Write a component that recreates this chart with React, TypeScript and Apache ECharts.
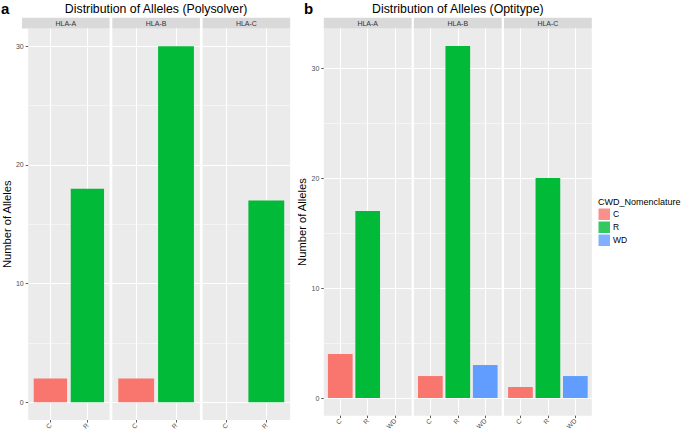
import React, { useEffect, useRef } from 'react';
import * as echarts from 'echarts';

// ---- data ----
const genes = ['HLA-A', 'HLA-B', 'HLA-C'];
const polyCats = ['C', 'R'];
const polyA = [2, 18];
const polyB = [2, 30];
const polyC = [0, 17];
const optiCats = ['C', 'R', 'WD'];
const optiA = [4, 17, 0];
const optiB = [2, 32, 3];
const optiC = [1, 20, 2];
const majorTicks = [0, 10, 20, 30];
const minorTicks = [5, 15, 25];
const legendNames = ['C', 'R', 'WD'];
const legendTitle = 'CWD_Nomenclature';
const titleA = 'Distribution of Alleles (Polysolver)';
const titleB = 'Distribution of Alleles (Optitype)';
const yTitle = 'Number of Alleles';

const colors: Record<string, string> = { C: '#F8766D', R: '#00BA38', WD: '#619CFF' };
const FONT = 'Liberation Sans, Arial, Helvetica, sans-serif';

const charts = [
  { cats: polyCats, values: [polyA, polyB, polyC], lefts: [22, 112.3, 202.6], width: 87.6, top: 28.5, bottom: 421, nameGap: 8, label: 'a', labelX: 1, title: titleA },
  { cats: optiCats, values: [optiA, optiB, optiC], lefts: [323.8, 413.9, 504], width: 87.8, top: 28.5, bottom: 416.3, nameGap: 9.3, label: 'b', labelX: 304, title: titleB },
];

function buildOption() {
  const grid: any[] = [];
  const xAxis: any[] = [];
  const yAxis: any[] = [];
  const series: any[] = [];
  const graphic: any[] = [];

  charts.forEach((ch, c) => {
    const all = ch.values.flat();
    const vmax = Math.max(...all);
    const pad = vmax * 0.05;
    const yMin = -pad;
    const yMax = vmax + pad;
    ch.values.forEach((vals, p) => {
      const g = c * 3 + p;
      const left = ch.lefts[p];
      grid.push({
        left, top: ch.top, width: ch.width, height: ch.bottom - ch.top,
        show: true, backgroundColor: '#EBEBEB', borderWidth: 0, containLabel: false,
      });
      const xTicks = ch.cats.map((_, i) => i + 1);
      xAxis.push({
        type: 'value', gridIndex: g, min: 0.4, max: ch.cats.length + 0.6,
        axisLine: { show: false, onZero: false },
        axisTick: { show: true, customValues: xTicks, length: 2.5, lineStyle: { color: '#333333', width: 0.8 } },
        axisLabel: {
          customValues: xTicks, rotate: 45, fontSize: 6.6, color: '#4D4D4D', margin: 4, fontFamily: FONT,
          formatter: (v: number) => ch.cats[Math.round(v) - 1] ?? '',
        },
        splitLine: { show: true, lineStyle: { color: '#FFFFFF', width: 1 } },
      });
      yAxis.push({
        type: 'value', gridIndex: g, min: yMin, max: yMax, position: 'left',
        axisLine: { show: false, onZero: false },
        axisTick: { show: p === 0, customValues: majorTicks, length: 2.5, lineStyle: { color: '#333333', width: 0.8 } },
        axisLabel: { show: p === 0, customValues: majorTicks, fontSize: 7, color: '#4D4D4D', margin: 4.5, fontFamily: FONT },
        splitLine: { show: true, lineStyle: { color: '#FFFFFF', width: 1 } },
        name: p === 0 ? yTitle : '',
        nameLocation: 'middle', nameGap: ch.nameGap,
        nameTextStyle: { fontSize: 11.2, color: '#000000', fontFamily: FONT },
      });
      yAxis.push({
        type: 'value', gridIndex: g, min: yMin, max: yMax, position: 'right',
        axisLine: { show: false, onZero: false },
        axisTick: { show: false, customValues: minorTicks },
        axisLabel: { show: false, customValues: minorTicks },
        splitLine: { show: true, lineStyle: { color: '#FFFFFF', width: 0.5 } },
      });
      series.push({
        type: 'bar', xAxisIndex: g, yAxisIndex: 2 * g, barWidth: '90%', silent: true,
        data: ch.cats.map((cat, i) => ({ value: [i + 1, vals[i]], itemStyle: { color: colors[cat] } })),
      });
      graphic.push({
        type: 'rect', silent: true,
        shape: { x: left, y: 17.8, width: ch.width, height: ch.top - 17.8 },
        style: { fill: '#D9D9D9' },
      });
      graphic.push({
        type: 'text', silent: true, x: left + ch.width / 2, y: (17.8 + ch.top) / 2,
        style: { text: genes[p], fontSize: 7, fill: '#333333', align: 'center', verticalAlign: 'middle', fontFamily: FONT },
      });
    });
    const cx = (ch.lefts[0] + ch.lefts[2] + ch.width) / 2;
    graphic.push({
      type: 'text', silent: true, x: cx, y: 8.8,
      style: { text: ch.title, fontSize: 12.3, fill: '#000000', align: 'center', verticalAlign: 'middle', fontFamily: FONT },
    });
    graphic.push({
      type: 'text', silent: true, x: ch.labelX, y: 8.3,
      style: { text: ch.label, fontSize: 15, fontWeight: 'bold', fill: '#000000', align: 'left', verticalAlign: 'middle', fontFamily: FONT },
    });
  });

  graphic.push({
    type: 'text', silent: true, x: 598, y: 202,
    style: { text: legendTitle, fontSize: 9, fill: '#000000', align: 'left', verticalAlign: 'middle', fontFamily: FONT },
  });

  legendNames.forEach((n) => {
    series.push({ type: 'scatter', name: n, data: [], xAxisIndex: 5, yAxisIndex: 11, itemStyle: { color: colors[n] } });
  });

  return {
    animation: false,
    backgroundColor: '#FFFFFF',
    textStyle: { fontFamily: FONT },
    grid, xAxis, yAxis, series, graphic,
    legend: {
      data: legendNames, orient: 'vertical', left: 598.5, top: 208.5, padding: 0,
      itemWidth: 11.5, itemHeight: 11.5, itemGap: 1.5, icon: 'rect', selectedMode: false,
      textStyle: { fontSize: 8.5, color: '#000000', fontFamily: FONT, padding: [0, 0, 0, -2] },
    },
  };
}

export default function App() {
  const ref = useRef<HTMLDivElement>(null);
  useEffect(() => {
    if (!ref.current) return;
    const chart = echarts.init(ref.current, undefined, { renderer: 'svg' });
    chart.setOption(buildOption() as any);
    return () => chart.dispose();
  }, []);
  return <div ref={ref} style={{ position: 'absolute', left: 0, top: 0, width: 685, height: 432 }} />;
}
